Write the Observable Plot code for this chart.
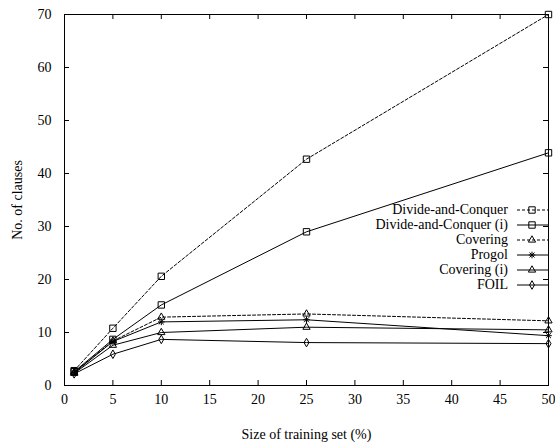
<!DOCTYPE html>
<html><head><meta charset="utf-8">
<script src="https://cdn.jsdelivr.net/npm/d3@7"></script>
<script src="https://cdn.jsdelivr.net/npm/@observablehq/plot@0.6"></script>
<style>
body{margin:0;background:#fff}
</style>
</head><body><div id="chart"></div>
<script>
// ---- data ----
const sizes = [1, 5, 10, 25, 50];
const seriesNames = ["Divide-and-Conquer", "Divide-and-Conquer (i)", "Covering", "Progol", "Covering (i)", "FOIL"];
const divideAndConquer  = [2.8, 10.8, 20.6, 42.7, 70.0];
const divideAndConquerI = [2.6, 8.7, 15.2, 29.0, 43.9];
const covering          = [2.5, 8.4, 12.9, 13.5, 12.2];
const progol            = [2.4, 8.3, 12.0, 12.4, 9.4];
const coveringI         = [2.3, 7.6, 10.0, 11.0, 10.5];
const foil              = [2.2, 5.9, 8.7, 8.1, 7.9];
const xTicks = [0, 5, 10, 15, 20, 25, 30, 35, 40, 45, 50];
const yTicks = [0, 10, 20, 30, 40, 50, 60, 70];
const xLabel = "Size of training set (%)";
const yLabel = "No. of clauses";

// ---- styles ----
const FONT = "'Liberation Serif', Tinos, 'Times New Roman', Times, 'DejaVu Serif', serif";
const star = {draw(ctx, size) {
  const r = Math.sqrt(size / Math.PI), d = r * 0.75;
  ctx.moveTo(-r, 0); ctx.lineTo(r, 0);
  ctx.moveTo(0, -r); ctx.lineTo(0, r);
  ctx.moveTo(-d, -d); ctx.lineTo(d, d);
  ctx.moveTo(-d, d); ctx.lineTo(d, -d);
}};
const seriesValues = [divideAndConquer, divideAndConquerI, covering, progol, coveringI, foil];
const seriesDashed = [true, false, true, false, false, false];
const seriesSymbol = [d3.symbolSquare, d3.symbolSquare, d3.symbolTriangle, star, d3.symbolTriangle, d3.symbolDiamond];
const seriesR = [3.6, 3.6, 2.7, 3.3, 2.7, 2.6];

const rows = [];
seriesNames.forEach((name, i) => sizes.forEach((x, j) => rows.push({series: name, idx: i, x, y: seriesValues[i][j]})));

const W = 555, H = 444, mL = 64, mR = 7, mT = 14, mB = 59;
const fw = W - mL - mR, fh = H - mT - mB, tl = 5;

function legend(index, scales, values, dim) {
  const g = d3.create("svg:g").attr("font-size", 14).attr("font-family", FONT).attr("fill", "black");
  const right = dim.width - dim.marginRight;
  const top = 210;
  seriesNames.forEach((name, i) => {
    const y = top + i * 15;
    g.append("text").attr("x", right - 40).attr("y", y).attr("dy", "0.32em")
      .attr("font-family", FONT).attr("text-anchor", "end").text(name);
    g.append("line").attr("x1", right - 31).attr("x2", right).attr("y1", y).attr("y2", y)
      .attr("stroke", "black").attr("stroke-width", 1)
      .attr("stroke-dasharray", seriesDashed[i] ? "3,2" : null);
    g.append("path").attr("transform", `translate(${right - 16},${y})`)
      .attr("d", d3.symbol(seriesSymbol[i], seriesR[i] * seriesR[i] * Math.PI)())
      .attr("fill", "none").attr("stroke", "black").attr("stroke-width", 1);
  });
  return g.node();
}

const chart = Plot.plot({
  width: W, height: H,
  marginLeft: mL, marginRight: mR, marginTop: mT, marginBottom: mB,
  style: {fontFamily: FONT, fontSize: "14px", color: "black", background: "white"},
  x: {domain: [0, 50]},
  y: {domain: [0, 70]},
  marks: [
    Plot.axisX(xTicks, {tickSize: 0, tickPadding: 9, label: xLabel, labelAnchor: "center", labelOffset: 53, labelArrow: "none", fontSize: 14, fontFamily: FONT}),
    Plot.axisY(yTicks, {tickSize: 0, tickPadding: 13, label: yLabel, labelAnchor: "center", labelOffset: 52, labelArrow: "none", fontSize: 14, fontFamily: FONT}),
    Plot.tickX(xTicks, {x: d => d, insetTop: fh - tl, stroke: "black"}),
    Plot.tickX(xTicks, {x: d => d, insetBottom: fh - tl, stroke: "black"}),
    Plot.tickY(yTicks, {y: d => d, insetRight: fw - tl, stroke: "black"}),
    Plot.tickY(yTicks, {y: d => d, insetLeft: fw - tl, stroke: "black"}),
    Plot.line(rows.filter(d => seriesDashed[d.idx]), {x: "x", y: "y", z: "series", stroke: "black", strokeWidth: 1, strokeDasharray: "3,2"}),
    Plot.line(rows.filter(d => !seriesDashed[d.idx]), {x: "x", y: "y", z: "series", stroke: "black", strokeWidth: 1}),
    ...seriesNames.map((name, i) => Plot.dot(rows.filter(d => d.idx === i), {x: "x", y: "y", symbol: () => seriesSymbol[i], r: seriesR[i], stroke: "black", fill: "none", strokeWidth: 1})),
    Plot.frame({stroke: "black", strokeWidth: 1}),
    legend
  ]
});
document.getElementById("chart").append(chart);
</script>
</body></html>
